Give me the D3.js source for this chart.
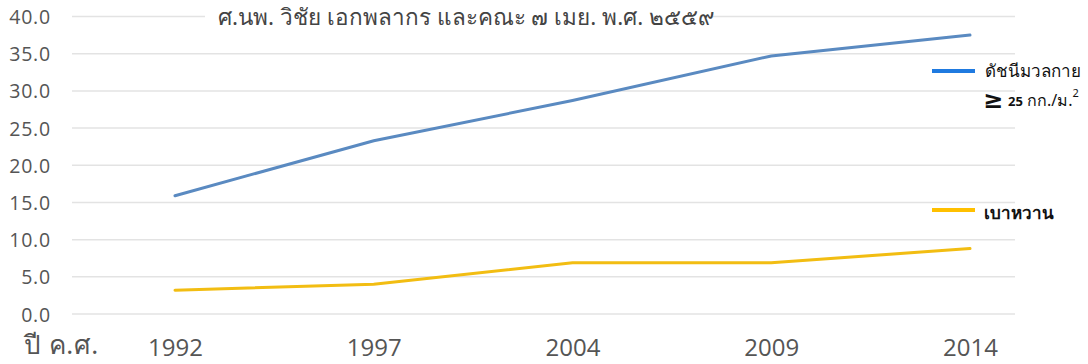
<!DOCTYPE html>
<html><head><meta charset="utf-8">
<script src="https://cdn.jsdelivr.net/npm/d3@7"></script>
<style>
body{margin:0;background:#fff;}
svg{display:block;font-family:"Noto Sans","DejaVu Sans",sans-serif;}
</style></head>
<body><svg id="c" width="1088" height="364"></svg>
<script>
const years = ["1992","1997","2004","2009","2014"];
const bmi = [15.9, 23.3, 28.7, 34.7, 37.5];
const diabetes = [3.2, 4.0, 6.9, 6.9, 8.8];
const yTicks = [0,5,10,15,20,25,30,35,40];
const titleText = "ศ.นพ. วิชัย เอกพลากร และคณะ ๗ เมย. พ.ศ. ๒๕๕๙";
const xAxisTitle = "ปี ค.ศ.";
const legendBmi1 = "ดัชนีมวลกาย";
const legendDiab = "เบาหวาน";

const svg = d3.select("#c");
const x = d3.scalePoint().domain(years).range([175, 970]);
const y = d3.scaleLinear().domain([0, 40]).range([314, 16.5]);

// gridlines
svg.append("g").selectAll("line").data(yTicks).join("line")
  .attr("x1", 72).attr("x2", 1015)
  .attr("y1", d => y(d)).attr("y2", d => y(d))
  .attr("stroke", "#e3e3e3").attr("stroke-width", 1.5);

// y axis labels
const yAxis = d3.axisLeft(y).tickValues(yTicks).tickFormat(d3.format(".1f")).tickSize(0).tickPadding(0);
const ga = svg.append("g").attr("transform", "translate(51,0)").call(yAxis);
ga.select(".domain").remove();
ga.selectAll("text").attr("font-size", 19.5).attr("letter-spacing", 0.8).attr("fill", "#555").attr("font-family", "'Open Sans',sans-serif").attr("dy", "0.36em");

// x axis labels
const xAxis = d3.axisBottom(x).tickSize(0).tickPadding(0);
const gx = svg.append("g").attr("transform", "translate(0,339)").call(xAxis);
gx.select(".domain").remove();
gx.selectAll("text").attr("font-size", 24).attr("fill", "#555").attr("font-family", "'Open Sans',sans-serif").attr("dy", "0.72em");

svg.append("text").attr("x", 24).attr("y", 354).attr("font-size", 26).attr("letter-spacing", 0.5).attr("fill", "#555").text(xAxisTitle);

// title with white background
svg.append("rect").attr("x", 205).attr("y", 2).attr("width", 508).attr("height", 28).attr("fill", "#fff");
svg.append("text").attr("x", 218).attr("y", 25).attr("font-size", 22.5).attr("fill", "#444").text(titleText);

// lines
const line = d3.line().x((d, i) => x(years[i])).y(d => y(d));
svg.append("path").datum(bmi).attr("d", line).attr("fill", "none")
  .attr("stroke", "#5a8ac1").attr("stroke-width", 3).attr("stroke-linecap", "round");
svg.append("path").datum(diabetes).attr("d", line).attr("fill", "none")
  .attr("stroke", "#f2bd12").attr("stroke-width", 3).attr("stroke-linecap", "round");

// legend
svg.append("line").attr("x1", 932).attr("x2", 975).attr("y1", 71).attr("y2", 71).attr("stroke", "#1f7ae0").attr("stroke-width", 4);
svg.append("text").attr("x", 985).attr("y", 77).attr("font-size", 17).attr("fill", "#111").text(legendBmi1);
const l2 = svg.append("text").attr("x", 983).attr("y", 108).attr("fill", "#111");
l2.append("tspan").attr("font-size", 24).attr("font-weight", "bold").text("≥");
l2.append("tspan").attr("font-size", 13).attr("font-weight", "bold").attr("dx", 5).attr("dy", -2).text("25");
l2.append("tspan").attr("font-size", 16).attr("dx", 4).text("กก./ม.");
l2.append("tspan").attr("font-size", 11).attr("dy", -9).text("2");

svg.append("line").attr("x1", 932).attr("x2", 975).attr("y1", 210).attr("y2", 210).attr("stroke", "#ffc000").attr("stroke-width", 4);
svg.append("text").attr("x", 984).attr("y", 219).attr("font-size", 17).attr("font-weight", "bold").attr("fill", "#111").text(legendDiab);
</script></body></html>
